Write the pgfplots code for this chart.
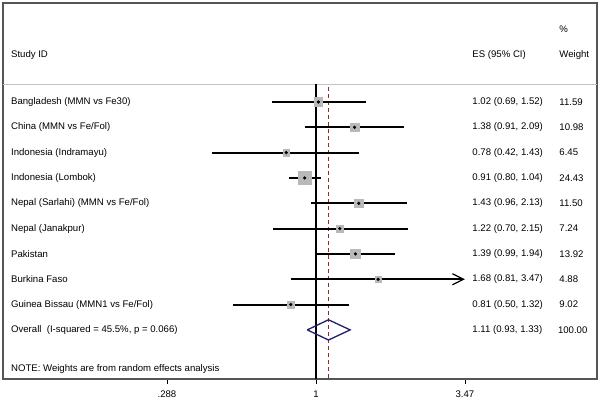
\documentclass[border=0pt]{standalone}
\usepackage{fontspec}
\setmainfont{Liberation Sans}
\usepackage{pgfplots}
\usepackage{pgfplotstable}
\pgfplotsset{compat=1.18}
\usetikzlibrary{arrows.meta}

\definecolor{frame}{RGB}{85,85,85}
\definecolor{sepgray}{RGB}{195,195,195}
\definecolor{sqgray}{RGB}{185,185,185}
\definecolor{navyd}{RGB}{30,30,110}
\definecolor{reddash}{RGB}{150,40,40}
\newcommand\f{\fontsize{9.6pt}{11pt}\selectfont}

% effect size, CI, weight, row
\pgfplotstableread{
es   lo   hi   w     row
1.02 0.69 1.52 11.59 1
1.38 0.91 2.09 10.98 2
0.78 0.42 1.43 6.45  3
0.91 0.80 1.04 24.43 4
1.43 0.96 2.13 11.50 5
1.22 0.70 2.15 7.24  6
1.39 0.99 1.94 13.92 7
1.68 0.81 3.47 4.88  8
0.81 0.50 1.32 9.02  9
}\studies

\begin{document}
\begin{tikzpicture}[font=\f]
\useasboundingbox (-3pt,-26pt) rectangle (598pt,379pt);
\begin{axis}[
    scale only axis, width=594pt, height=376pt,
    xmode=log, xmin=0.0732, xmax=10.46,
    y dir=reverse, ymin=-2.91, ymax=11.94,
    ytick=\empty,
    xtick={0.288,1,3.47}, xticklabels={.288,1,3.47},
    xtick pos=bottom, tick align=outside,
    major tick length=5pt,
    minor tick num=0,
    log ticks with fixed point,
    axis line style={frame, line width=1.3pt},
    xtick style={black, line width=0.6pt},
    xticklabel style={font=\f, yshift=-3pt},
    clip=false,
]
% header separator
\addplot[sepgray, line width=0.7pt] coordinates {(0.0732,0.29) (10.46,0.29)};
% null line and overall estimate
\addplot[black, line width=1.2pt] coordinates {(1,0.29) (1,11.94)};
\addplot[reddash, line width=0.7pt, dash pattern=on 4pt off 3pt] coordinates {(1.11,0.41) (1.11,11.94)};
% weight boxes
\addplot[sqgray, only marks, scatter, mark=square*,
    mark options={draw=sqgray, fill=sqgray},
    scatter/use mapped color={draw=sqgray, fill=sqgray},
    visualization depends on={1.27*sqrt(\thisrow{w}) \as \msz},
    scatter/@pre marker code/.append style={/tikz/mark size=\msz}]
    table[x=es, y=row] \studies;
% confidence intervals
\addplot[black, line width=2pt, unbounded coords=jump] coordinates {
(0.69,1) (1.52,1) (nan,nan)
(0.91,2) (2.09,2) (nan,nan)
(0.42,3) (1.43,3) (nan,nan)
(0.80,4) (1.04,4) (nan,nan)
(0.96,5) (2.13,5) (nan,nan)
(0.70,6) (2.15,6) (nan,nan)
(0.99,7) (1.94,7) (nan,nan)
(0.50,9) (1.32,9)
};
\addplot[black, line width=2pt, -{Straight Barb[length=11pt, width=11pt, line width=1.3pt]}]
    coordinates {(0.81,8) (3.47,8)};
% point estimates
\addplot[only marks, mark=*, mark size=1.4pt, black] table[x=es, y=row] \studies;
% pooled diamond
\addplot[navyd, line width=1.3pt] coordinates {(0.93,10) (1.11,9.6) (1.33,10) (1.11,10.4) (0.93,10)};

% text columns
\node[anchor=west, inner sep=0pt] at (axis cs:0.0782,-0.855) {Study ID};
\node[anchor=west, inner sep=0pt] at (axis cs:3.69,-0.855) {ES (95\% CI)};
\node[anchor=west, inner sep=0pt] at (axis cs:7.63,-1.88) {\%};
\node[anchor=west, inner sep=0pt] at (axis cs:7.63,-0.855) {Weight};

\node[anchor=west, inner sep=0pt] at (axis cs:0.0782,1) {Bangladesh (MMN vs Fe30)};
\node[anchor=west, inner sep=0pt] at (axis cs:0.0782,2) {China (MMN vs Fe/Fol)};
\node[anchor=west, inner sep=0pt] at (axis cs:0.0782,3) {Indonesia (Indramayu)};
\node[anchor=west, inner sep=0pt] at (axis cs:0.0782,4) {Indonesia (Lombok)};
\node[anchor=west, inner sep=0pt] at (axis cs:0.0782,5) {Nepal (Sarlahi) (MMN vs Fe/Fol)};
\node[anchor=west, inner sep=0pt] at (axis cs:0.0782,6) {Nepal (Janakpur)};
\node[anchor=west, inner sep=0pt] at (axis cs:0.0782,7) {Pakistan};
\node[anchor=west, inner sep=0pt] at (axis cs:0.0782,8) {Burkina Faso};
\node[anchor=west, inner sep=0pt] at (axis cs:0.0782,9) {Guinea Bissau (MMN1 vs Fe/Fol)};
\node[anchor=west, inner sep=0pt] at (axis cs:0.0782,10) {Overall\ \ (I-squared = 45.5\%, p = 0.066)};
\node[anchor=west, inner sep=0pt] at (axis cs:0.0782,11.54) {NOTE: Weights are from random effects analysis};

\node[anchor=west, inner sep=0pt] at (axis cs:3.69,1) {1.02 (0.69, 1.52)};
\node[anchor=west, inner sep=0pt] at (axis cs:3.69,2) {1.38 (0.91, 2.09)};
\node[anchor=west, inner sep=0pt] at (axis cs:3.69,3) {0.78 (0.42, 1.43)};
\node[anchor=west, inner sep=0pt] at (axis cs:3.69,4) {0.91 (0.80, 1.04)};
\node[anchor=west, inner sep=0pt] at (axis cs:3.69,5) {1.43 (0.96, 2.13)};
\node[anchor=west, inner sep=0pt] at (axis cs:3.69,6) {1.22 (0.70, 2.15)};
\node[anchor=west, inner sep=0pt] at (axis cs:3.69,7) {1.39 (0.99, 1.94)};
\node[anchor=west, inner sep=0pt] at (axis cs:3.69,8) {1.68 (0.81, 3.47)};
\node[anchor=west, inner sep=0pt] at (axis cs:3.69,9) {0.81 (0.50, 1.32)};
\node[anchor=west, inner sep=0pt] at (axis cs:3.69,10) {1.11 (0.93, 1.33)};

\node[anchor=west, inner sep=0pt] at (axis cs:7.63,1) {11.59};
\node[anchor=west, inner sep=0pt] at (axis cs:7.63,2) {10.98};
\node[anchor=west, inner sep=0pt] at (axis cs:7.63,3) {6.45};
\node[anchor=west, inner sep=0pt] at (axis cs:7.63,4) {24.43};
\node[anchor=west, inner sep=0pt] at (axis cs:7.63,5) {11.50};
\node[anchor=west, inner sep=0pt] at (axis cs:7.63,6) {7.24};
\node[anchor=west, inner sep=0pt] at (axis cs:7.63,7) {13.92};
\node[anchor=west, inner sep=0pt] at (axis cs:7.63,8) {4.88};
\node[anchor=west, inner sep=0pt] at (axis cs:7.63,9) {9.02};
\node[anchor=west, inner sep=0pt] at (axis cs:7.54,10) {100.00};
\end{axis}
\end{tikzpicture}
\end{document}
